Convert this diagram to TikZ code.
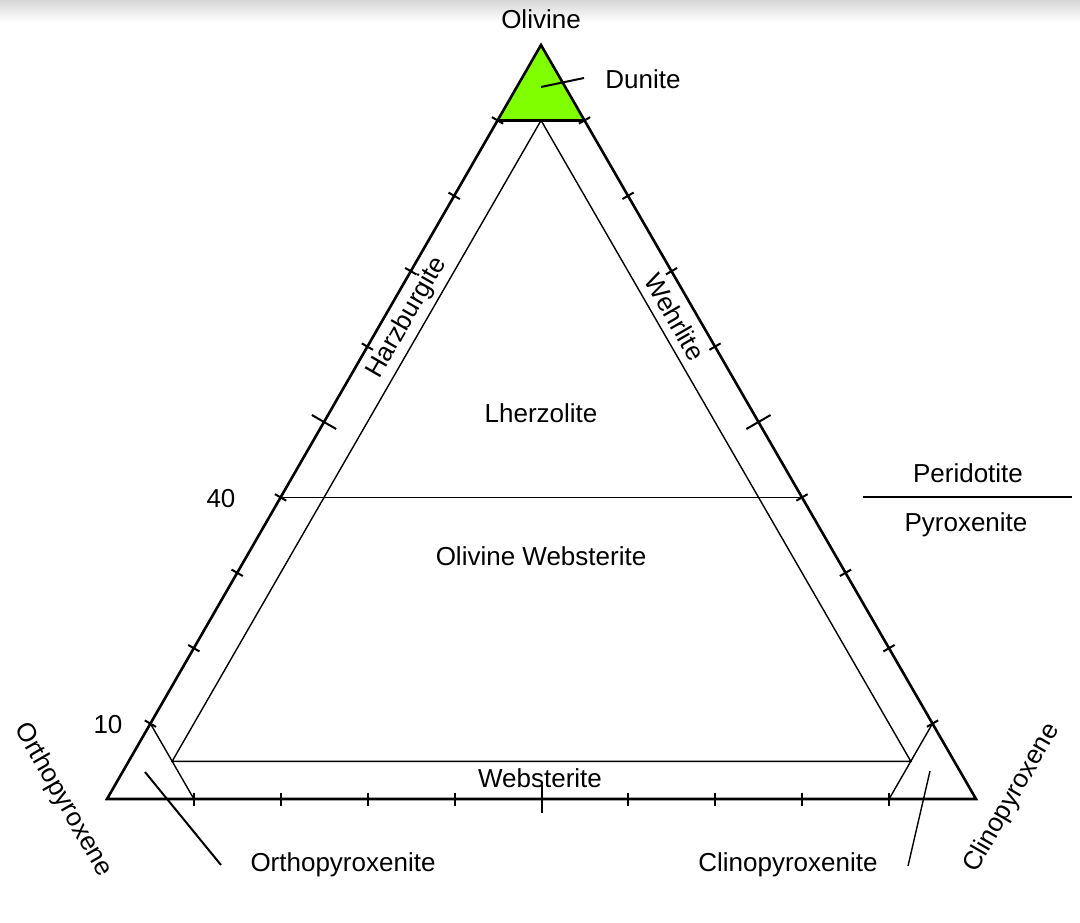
\documentclass[tikz,border=0pt]{standalone}
\usepackage{fontspec}
\setmainfont{Liberation Sans}
\usetikzlibrary{calc}
\definecolor{dunitegreen}{RGB}{128,255,0}
\begin{document}
\begin{tikzpicture}[x=1pt,y=-1pt,
  lbl/.style={font=\fontsize{26}{31}\selectfont, inner sep=0pt},
  edgeline/.style={line width=2.6pt, line join=miter},
  thinline/.style={line width=1.4pt},
  tickmark/.style={line width=2pt},
  leader/.style={line width=2pt}]
\useasboundingbox (0,0) rectangle (1080,923);
\fill[white] (0,0) rectangle (1080,923);
\shade[top color=black!16, bottom color=white] (0,0) rectangle (1080,22);

% main vertices
\coordinate (A) at (541,45);
\coordinate (B) at (107,799);
\coordinate (C) at (976,799);

% dunite field
\coordinate (G1) at ($(B)!0.9!(A)$);
\coordinate (G2) at ($(C)!0.9!(A)$);
\fill[dunitegreen] (A) -- (G1) -- (G2) -- cycle;
\draw[edgeline] (G1) -- (G2);

% helper points
\coordinate (L10) at ($(B)!0.1!(A)$);
\coordinate (R10) at ($(C)!0.1!(A)$);
\coordinate (B10) at ($(B)!0.1!(C)$);
\coordinate (B90) at ($(B)!0.9!(C)$);
\coordinate (L40) at ($(B)!0.4!(A)$);
\coordinate (R40) at ($(C)!0.4!(A)$);
\coordinate (IT) at ($(G1)!0.5!(G2)$);
\coordinate (IL) at ($(L10)!0.5!(B10)$);
\coordinate (IR) at ($(R10)!0.5!(B90)$);

% inner lines
\draw[thinline] (IL) -- (IT) -- (IR) -- cycle;
\draw[thinline] (L10) -- (B10);
\draw[thinline] (R10) -- (B90);
\draw[thinline] (L40) -- (R40);

% ticks
\foreach \i in {1,...,9}{
  \pgfmathsetmacro{\f}{\i/10}
  \ifnum\i=5 \def\tl{14pt}\else\def\tl{6.5pt}\fi
  \coordinate (PL) at ($(B)!\f!(A)$);
  \draw[tickmark] ($(PL)!\tl!90:(A)$) -- ($(PL)!\tl!-90:(A)$);
  \coordinate (PR) at ($(C)!\f!(A)$);
  \draw[tickmark] ($(PR)!\tl!90:(A)$) -- ($(PR)!\tl!-90:(A)$);
  \coordinate (PB) at ($(B)!\f!(C)$);
  \draw[tickmark] ($(PB)!\tl!90:(C)$) -- ($(PB)!\tl!-90:(C)$);
}

% main triangle
\draw[edgeline] (A) -- (B) -- (C) -- cycle;

% labels
\node[lbl] (olivine) at (541,19) {Olivine};
\node[lbl] (dunite) at (643,79) {Dunite};
\node[lbl] (lherz) at (541,413) {Lherzolite};
\node[lbl] (olweb) at (541,556) {Olivine Websterite};
\node[lbl] (webst) at (540,778) {Websterite};
\node[lbl,rotate=60] (harz) at (407,318) {Harzburgite};
\node[lbl,rotate=-60] (wehr) at (675,317) {Wehrlite};
\node[lbl] (forty) at (221,499) {40};
\node[lbl] (ten) at (108,725) {10};
\node[lbl] (perid) at (968,473) {Peridotite};
\node[lbl] (pyrox) at (966,525) {Pyroxenite};
\node[lbl,rotate=-60] (opx) at (63,800) {Orthopyroxene};
\node[lbl,rotate=60] (cpx) at (1012,798) {Clinopyroxene};
\node[lbl] (opxite) at (343,865) {Orthopyroxenite};
\node[lbl] (cpxite) at (788,865) {Clinopyroxenite};

% divider
\coordinate (d1) at (863,497);
\coordinate (d2) at (1072,497);
\draw[leader] (d1) -- (d2);

% leaders
\coordinate (du1) at (541,87);
\coordinate (du2) at (584,78);
\draw[leader] (du1) -- (du2);
\coordinate (op1) at (145,772);
\coordinate (op2) at (221,865);
\draw[leader] (op1) -- (op2);
\coordinate (cp1) at (930,771);
\coordinate (cp2) at (908,866);
\draw[thinline] (cp1) -- (cp2);
\end{tikzpicture}
\end{document}
